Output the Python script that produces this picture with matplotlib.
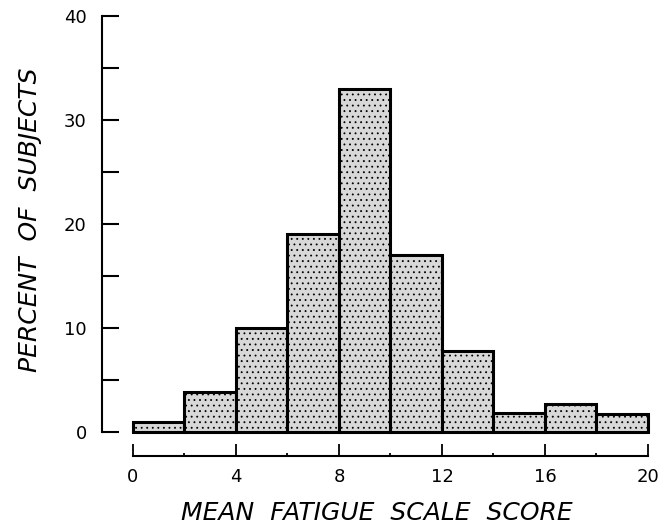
#Histogram of mean fatigue scale scores
from matplotlib import pyplot as plt
from matplotlib.ticker import MultipleLocator
import numpy as np

#bin edges and percent of subjects per bin
binEdges = [0, 2, 4, 6, 8, 10, 12, 14, 16, 18, 20]
percents = [1.0, 3.8, 10.0, 19.0, 33.0, 17.0, 7.8, 1.8, 2.7, 1.7]

xTicks = [0, 4, 8, 12, 16, 20]
yTicks = [0, 10, 20, 30, 40]

plt.rcParams['hatch.linewidth'] = 0.6

fig = plt.figure(figsize=(6.7, 5.28), dpi=100)
#axes placed in pixel terms: left spine x=102, y=0 at 432px, y=40 at 16px
ax = fig.add_axes([102/670, (528-432)/528, (662-102)/670, 416/528])

lefts = np.array(binEdges[:-1])
widths = np.diff(binEdges)
bars = ax.bar(lefts, percents, width=widths, align='edge',
              facecolor='#d8d8d8', edgecolor='black', linewidth=2.2,
              hatch='...', clip_on=False)

ax.set_xlim(-1.2, (662-133)/25.75)
ax.set_ylim(0, 40)

ax.spines['top'].set_visible(False)
ax.spines['right'].set_visible(False)
ax.spines['left'].set_linewidth(1.5)
ax.spines['left'].set_bounds(0, 40)
ax.spines['bottom'].set_linewidth(1.5)
ax.spines['bottom'].set_bounds(0, 20)
ax.spines['bottom'].set_position(('outward', 17))

ax.set_yticks(yTicks)
ax.yaxis.set_minor_locator(MultipleLocator(5))
ax.tick_params(axis='y', which='both', direction='in', length=12, width=1.5,
               pad=11, labelsize=13)

ax.set_xticks(xTicks)
ax.xaxis.set_minor_locator(MultipleLocator(2))
ax.tick_params(axis='x', which='major', direction='in', length=9, width=1.3,
               pad=9, labelsize=13)
ax.tick_params(axis='x', which='minor', direction='in', length=2.5, width=1.3)

fig.text(377/670, 1-513/528, 'MEAN  FATIGUE  SCALE  SCORE', style='italic',
         fontsize=18, ha='center', va='center')
fig.text(30/670, 1-220/528, 'PERCENT  OF  SUBJECTS', style='italic',
         fontsize=18, ha='center', va='center', rotation=90)

plt.savefig('out.png', dpi=100)
